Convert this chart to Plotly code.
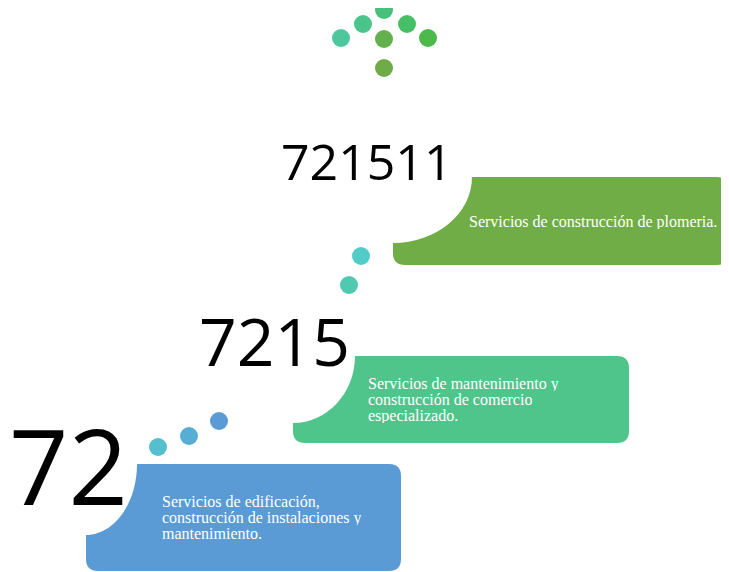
import plotly.graph_objects as go

# ---- data ----
codes = ["72", "7215", "721511"]
descriptions = [
    ["Servicios de edificación,", "construcción de instalaciones y", "mantenimiento."],
    ["Servicios de mantenimiento y", "construcción de comercio", "especializado."],
    ["Servicios de construcción de plomeria."],
]

# ---- layout / style ----
PAGE_W, PAGE_H = 729, 572
OFF = 8  # page body margin in the browser
box_colors = ["#5B9BD5", "#4FC58C", "#70AD47"]
# box geometry: left, top, right, bottom, concave-corner rx, ry
boxes = [
    (86, 464, 401, 571, 51, 71),
    (293, 356, 629, 443, 62, 67),
    (393, 177, 729, 265, 79, 66),
]
code_pos = [(68.5, 464, 104), (274, 340, 66), (367, 161, 50)]  # centre x, centre y, size
desc_pos = [(161, 507), (367, 389), (468, 227)]  # left x, first baseline
LINE_GAP = 16
DESC_SIZE = 16

dots_x = [341, 363, 384, 407, 428, 384, 384, 361, 349, 158, 189, 219]
dots_y = [38, 24, 10, 24, 38, 39, 68, 256, 285, 447, 436, 421]
dots_c = ["#4DC79C", "#4AC48A", "#48C17A", "#47BF66", "#4CB94B", "#63B04E",
          "#6FAC48", "#52CCC8", "#4FC9B0", "#55BFCD", "#57AED5", "#5B9BD5"]


def box_path(x0, y0, x1, y1, rx, ry, r=12):
    k = 0.5523
    return (f"M {x0+rx},{y0} L {x1-r},{y0} Q {x1},{y0} {x1},{y0+r} "
            f"L {x1},{y1-r} Q {x1},{y1} {x1-r},{y1} L {x0+r},{y1} "
            f"Q {x0},{y1} {x0},{y1-r} L {x0},{y0+ry} "
            f"C {x0+k*rx},{y0+ry} {x0+rx},{y0+k*ry} {x0+rx},{y0} Z")


def to_paper(path_str):
    # convert page-pixel path to paper coordinates so the shape is not clipped
    out = []
    for tok in path_str.split():
        if "," in tok:
            px, py = (float(v) for v in tok.split(","))
            out.append(f"{(px - OFF) / (PAGE_W - OFF):.5f},{1 - (py - OFF) / (PAGE_H - OFF):.5f}")
        else:
            out.append(tok)
    return " ".join(out)


fig = go.Figure()
shapes = []
for (x0, y0, x1, y1, rx, ry), c in zip(boxes, box_colors):
    shapes.append(dict(type="path", path=to_paper(box_path(x0, y0, x1, y1, rx, ry)),
                       xref="paper", yref="paper", fillcolor=c, line=dict(width=0),
                       layer="below"))

fig.add_trace(go.Scatter(x=dots_x, y=dots_y, mode="markers", cliponaxis=False,
                         marker=dict(size=18, color=dots_c, line=dict(width=0)),
                         hoverinfo="skip", showlegend=False))

annotations = []
for code, (x, y, s) in zip(codes, code_pos):
    annotations.append(dict(x=x, y=y, xref="x", yref="y", text=code,
                            showarrow=False, xanchor="center", yanchor="middle",
                            font=dict(family="Open Sans", size=s, color="black")))
for lines, (x, y) in zip(descriptions, desc_pos):
    for i, line in enumerate(lines):
        annotations.append(dict(x=x, y=y + i * LINE_GAP - 0.34 * DESC_SIZE,
                                xref="x", yref="y", text=line, align="left",
                                showarrow=False, xanchor="left", yanchor="middle",
                                borderpad=0, height=15, valign="middle",
                                font=dict(family="Liberation Serif", size=DESC_SIZE,
                                          color="white")))

fig.update_layout(
    width=PAGE_W - OFF, height=PAGE_H - OFF, margin=dict(l=0, r=0, t=0, b=0),
    paper_bgcolor="white", plot_bgcolor="white",
    xaxis=dict(range=[OFF, PAGE_W], visible=False, fixedrange=True),
    yaxis=dict(range=[PAGE_H, OFF], visible=False, fixedrange=True),
    shapes=shapes, annotations=annotations, showlegend=False,
)
fig.write_html("out.html")
